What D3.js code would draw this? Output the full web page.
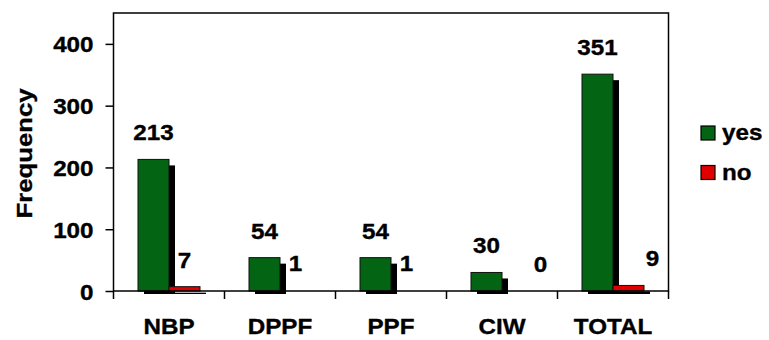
<!DOCTYPE html>
<html>
<head>
<meta charset="utf-8">
<script src="https://cdn.jsdelivr.net/npm/d3@7"></script>
<style>
  html, body { margin: 0; padding: 0; background: #fff; }
  svg { display: block; }
  text { font-family: "Liberation Sans", Arial, sans-serif; font-weight: bold; fill: #000; stroke: #000; stroke-width: 0.35px; }
</style>
</head>
<body>
<svg id="chart" width="769" height="340"></svg>
<script>
// Frequency of yes / no answers per group
const categories = ["NBP", "DPPF", "PPF", "CIW", "TOTAL"];
const seriesNames = ["yes", "no"];
const yesValues = [213, 54, 54, 30, 351];
const noValues = [7, 1, 1, 0, 9];
const yTicks = [0, 100, 200, 300, 400];

const colors = { yes: "#036414", no: "#e00000" };
const FS = 22;      // font size
const SX = 1.1;     // horizontal glyph stretch

const svg = d3.select("#chart");
const plot = { left: 113.5, right: 668.5, top: 13, bottom: 291 };

const x = d3.scaleBand().domain(categories).range([plot.left, plot.right]).padding(0);
const x1 = d3.scaleBand().domain(seriesNames)
  .range([x.bandwidth() / 2 - 31, x.bandwidth() / 2 + 31]).padding(0);
const y = d3.scaleLinear().domain([0, 450]).range([plot.bottom, plot.top]);

const rows = categories.map((c, i) => ({ cat: c, yes: yesValues[i], no: noValues[i] }));
const bars = [];
rows.forEach(r => seriesNames.forEach(s => bars.push({ cat: r.cat, key: s, value: r[s] })));

// shadows are clipped just below the baseline
svg.append("defs").append("clipPath").attr("id", "shadowClip")
  .append("rect").attr("x", plot.left).attr("y", plot.top)
  .attr("width", plot.right - plot.left + 20).attr("height", plot.bottom - plot.top + 3);

const shOff = 6;
svg.append("g").attr("clip-path", "url(#shadowClip)")
  .selectAll("rect").data(bars).join("rect")
  .attr("x", d => x(d.cat) + x1(d.key) + shOff)
  .attr("y", d => y(d.value) + shOff)
  .attr("width", x1.bandwidth())
  .attr("height", d => y(0) - y(d.value))
  .attr("fill", "#000");

// bars thinner than a pixel disappear into the axis line
svg.append("g").selectAll("rect").data(bars.filter(d => y(0) - y(d.value) >= 1)).join("rect")
  .attr("x", d => x(d.cat) + x1(d.key))
  .attr("y", d => y(d.value))
  .attr("width", x1.bandwidth())
  .attr("height", d => y(0) - y(d.value))
  .attr("fill", d => colors[d.key])
  .attr("stroke", "#111")
  .attr("stroke-width", 1);

// plot frame
svg.append("rect")
  .attr("x", plot.left).attr("y", plot.top)
  .attr("width", plot.right - plot.left).attr("height", plot.bottom - plot.top)
  .attr("fill", "none").attr("stroke", "#000").attr("stroke-width", 1.5);

// y axis
const yAxis = svg.append("g").attr("transform", `translate(${plot.left},0)`)
  .call(d3.axisLeft(y).tickValues(yTicks).tickSize(8).tickPadding(0).tickFormat(d3.format("d")));
yAxis.select(".domain").remove();
yAxis.selectAll("line").attr("stroke", "#000").attr("stroke-width", 1.5);
yAxis.selectAll("text").remove();
yAxis.selectAll(".tick").append("text")
  .attr("transform", `translate(-20,8) scale(${SX},1)`)
  .attr("text-anchor", "end")
  .style("font-size", FS + "px")
  .text(d => d);

// x axis: ticks between categories
const xAxis = svg.append("g").attr("transform", `translate(0,${plot.bottom})`);
const bounds = categories.map(c => x(c)).concat([plot.right]);
xAxis.selectAll("line").data(bounds).join("line")
  .attr("x1", d => d).attr("x2", d => d).attr("y1", 0).attr("y2", 8)
  .attr("stroke", "#000").attr("stroke-width", 1.5);
xAxis.selectAll("text").data(categories).join("text")
  .attr("transform", d => `translate(${x(d) + x.bandwidth() / 2},42.5) scale(${SX},1)`)
  .attr("text-anchor", "middle")
  .style("font-size", FS + "px")
  .text(d => d);

// value labels
const labelShift = { "CIW|no": 23, "TOTAL|no": 24 };
svg.append("g").selectAll("text").data(bars).join("text")
  .attr("transform", d => {
    const cx = x(d.cat) + x1(d.key) + x1.bandwidth() / 2 + (labelShift[d.cat + "|" + d.key] || 0);
    return `translate(${cx},${y(d.value) - 19}) scale(${SX},1)`;
  })
  .attr("text-anchor", "middle")
  .style("font-size", FS + "px")
  .text(d => d.value);

// y axis title
svg.append("text")
  .attr("transform", `translate(32,153.5) rotate(-90) scale(1.17,1)`)
  .attr("text-anchor", "middle")
  .style("font-size", FS + "px")
  .text("Frequency");

// legend
const legend = svg.append("g").selectAll("g").data(seriesNames).join("g")
  .attr("transform", (d, i) => `translate(701,${126 + i * 39.5})`);
legend.append("rect")
  .attr("width", 14).attr("height", 14)
  .attr("fill", d => colors[d]).attr("stroke", "#000").attr("stroke-width", 1.2);
legend.append("text")
  .attr("transform", `translate(21,14) scale(${SX},1)`)
  .style("font-size", FS + "px")
  .text(d => d);
</script>
</body>
</html>
